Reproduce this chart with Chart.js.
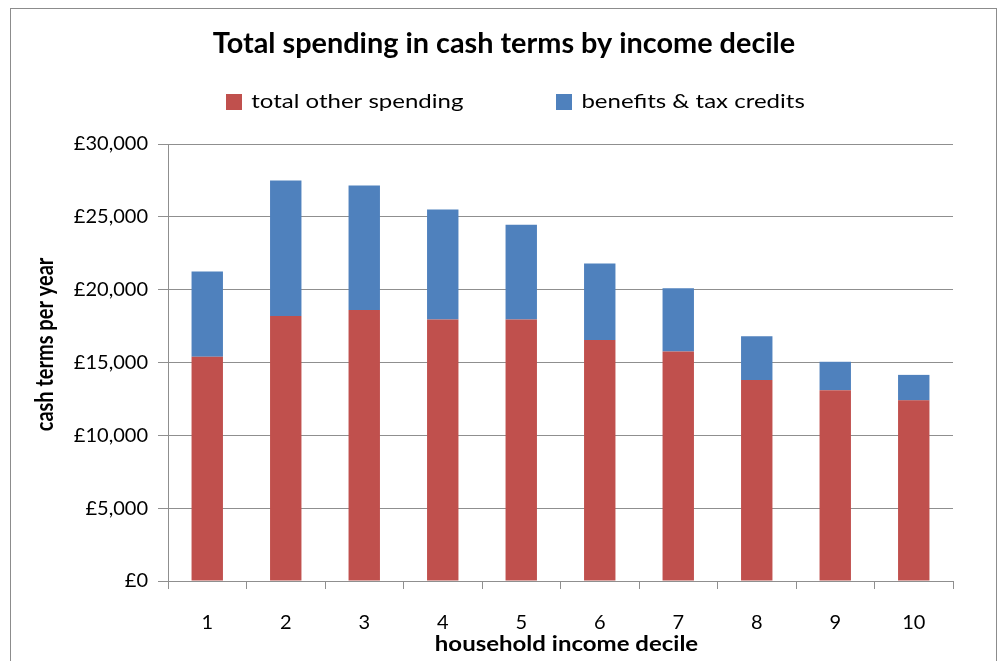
<!DOCTYPE html>
<html>
<head>
<meta charset="utf-8">
<script src="https://cdn.jsdelivr.net/npm/chart.js@4/dist/chart.umd.min.js"></script>
<style>
  html, body { margin: 0; padding: 0; background: #fff; }
  #wrap { position: relative; width: 1000px; height: 661px; }
  canvas { display: block; }
</style>
</head>
<body>
<div id="wrap"><canvas id="c" width="1000" height="661"></canvas></div>
<script>
const deciles = ['1', '2', '3', '4', '5', '6', '7', '8', '9', '10'];
const otherSpending = [15400, 18200, 18600, 17950, 17950, 16550, 15750, 13800, 13100, 12400];
const benefits = [5850, 9300, 8550, 7550, 6500, 5250, 4350, 3000, 1950, 1750];
const seriesNames = ['total other spending', 'benefits & tax credits'];
const titleText = 'Total spending in cash terms by income decile';
const yTitle = 'cash terms per year';
const xTitle = 'household income decile';

const RED = '#C0504D';
const BLUE = '#4F81BD';
const GRID = '#8f8f8f';
const FONT = 'Lato, "Open Sans", sans-serif';

function stretchedText(ctx, text, cx, cy, sx) {
  ctx.save();
  ctx.translate(cx, cy);
  ctx.scale(sx, 1);
  ctx.textAlign = 'center';
  ctx.textBaseline = 'middle';
  ctx.fillText(text, 0, 0);
  ctx.restore();
}

const decorPlugin = {
  id: 'decor',
  afterDraw(chart) {
    const ctx = chart.ctx;
    const area = chart.chartArea;
    ctx.save();
    // outer frame
    ctx.strokeStyle = '#8c8c8c';
    ctx.lineWidth = 1;
    ctx.strokeRect(10.5, 8.5, 986, 700);
    // title
    ctx.fillStyle = '#000';
    ctx.font = 'bold 28px ' + FONT;
    stretchedText(ctx, titleText, 504, 44, 1.03);
    // legend
    ctx.font = '20px ' + FONT;
    const sx = 1.2;
    const boxW = 16, boxH = 16, gapText = 9, gapItem = 93;
    const ds = chart.data.datasets;
    const widths = ds.map(d => ctx.measureText(d.label).width * sx);
    let total = 0;
    ds.forEach((d, i) => { total += boxW + gapText + widths[i]; if (i < ds.length - 1) total += gapItem; });
    let x = 515.5 - total / 2;
    const cy = 101.5;
    ds.forEach((d, i) => {
      ctx.fillStyle = d.backgroundColor;
      ctx.fillRect(Math.round(x), Math.round(cy - boxH / 2), boxW, boxH);
      ctx.fillStyle = '#000';
      stretchedText(ctx, d.label, x + boxW + gapText + widths[i] / 2, cy, sx);
      x += boxW + gapText + widths[i] + gapItem;
    });
    // x axis title
    ctx.font = 'bold 20px ' + FONT;
    stretchedText(ctx, xTitle, (area.left + area.right) / 2 + 6, 645, 1.2);
    // y axis title
    ctx.save();
    ctx.translate(45, (area.top + area.bottom) / 2 - 18);
    ctx.rotate(-Math.PI / 2);
    ctx.scale(1, 1.2);
    ctx.textAlign = 'center';
    ctx.textBaseline = 'middle';
    ctx.fillText(yTitle, 0, 0);
    ctx.restore();
    ctx.restore();
  }
};

new Chart(document.getElementById('c'), {
  type: 'bar',
  data: {
    labels: deciles,
    datasets: [
      { label: seriesNames[0], data: otherSpending, backgroundColor: RED, borderWidth: 0 },
      { label: seriesNames[1], data: benefits, backgroundColor: BLUE, borderWidth: 0 }
    ]
  },
  options: {
    responsive: false,
    animation: false,
    devicePixelRatio: 1,
    layout: { padding: { top: 144, right: 47, bottom: 0, left: 0 } },
    plugins: {
      legend: { display: false },
      title: { display: false },
      tooltip: { enabled: false }
    },
    datasets: { bar: { barPercentage: 0.4, categoryPercentage: 1.0 } },
    scales: {
      x: {
        stacked: true,
        offset: true,
        grid: { display: true, drawOnChartArea: false, drawTicks: true, tickLength: 8, color: GRID, offset: true },
        border: { display: true, color: GRID, width: 1 },
        ticks: { color: '#000', font: { family: FONT, size: 20 }, padding: 22, maxRotation: 0 },
        title: { display: false, text: xTitle },
        afterFit(axis) { axis.height = 80; }
      },
      y: {
        stacked: true,
        min: 0,
        max: 30000,
        grid: { color: GRID, lineWidth: 1, drawTicks: true, tickLength: 10 },
        border: { display: true, color: GRID, width: 1 },
        ticks: {
          stepSize: 5000,
          color: '#000',
          font: { family: FONT, size: 20 },
          padding: 10,
          callback: v => '£' + v.toLocaleString('en-GB')
        },
        title: { display: false, text: yTitle },
        afterFit(axis) { axis.width = 168; }
      }
    }
  },
  plugins: [decorPlugin]
});
</script>
</body>
</html>
